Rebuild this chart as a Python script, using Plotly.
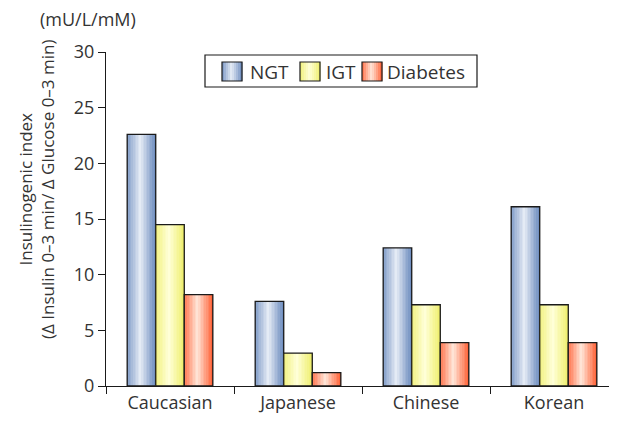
import plotly.graph_objects as go

categories = ["Caucasian", "Japanese", "Chinese", "Korean"]
series_names = ["NGT", "IGT", "Diabetes"]
ngt = [22.6, 7.6, 12.4, 16.1]
igt = [14.5, 2.95, 7.3, 7.3]
diabetes = [8.2, 1.2, 3.9, 3.9]
values = [ngt, igt, diabetes]

# gradient colours (edge, centre) per series
edge_cols = [(104, 136, 188), (238, 238, 105), (255, 92, 48)]
centre_cols = [(228, 235, 245), (255, 255, 215), (255, 228, 214)]

FONT = "Open Sans"
TXT = "#333333"
bar_w = 0.223
n_stripes = 18
group_start = -1.5 * bar_w

# page body has an 8px margin; plot area in screen px: x 106..618, y 52..386
OFF = 8
PX0, PX1, PY0, PY1 = 106, 618, 52, 386


def px(sx):
    return (sx - PX0) / (PX1 - PX0)


def py(sy):
    return (PY1 - sy) / (PY1 - PY0)


def mix(a, b, f):
    return "rgb(%d,%d,%d)" % tuple(round(a[k] + (b[k] - a[k]) * f) for k in range(3))


def grad(t):
    return max(0.0, 1 - abs((t - 0.47) / 0.53)) ** 0.9


fig = go.Figure()

for s, vals in enumerate(values):
    base = group_start + s * bar_w
    sw = bar_w / n_stripes
    for k in range(n_stripes):
        t = (k + 0.5) / n_stripes
        fig.add_trace(go.Bar(
            x=categories, y=vals, offset=base + k * sw, width=sw * 1.15,
            marker=dict(color=mix(edge_cols[s], centre_cols[s], grad(t)), line=dict(width=0)),
            showlegend=False, hoverinfo="skip"))
    fig.add_trace(go.Bar(
        x=categories, y=vals, offset=base, width=bar_w,
        marker=dict(color="rgba(0,0,0,0)", line=dict(color="#1a1a1a", width=1.3)),
        showlegend=False, name=series_names[s]))

# manual legend (screen px)
shapes = [dict(type="rect", xref="paper", yref="paper", x0=px(205), x1=px(477),
               y0=py(87), y1=py(55), line=dict(color="#1a1a1a", width=1.2),
               fillcolor="white", layer="above")]
annotations = []
sw_x = [222, 300, 362]
txt_x = [248, 324, 385]
n_leg = 10
for s in range(3):
    x0 = sw_x[s]
    w = 20
    for k in range(n_leg):
        t = (k + 0.5) / n_leg
        shapes.append(dict(type="rect", xref="paper", yref="paper",
                           x0=px(x0 + k * w / n_leg), x1=px(x0 + (k + 1.2) * w / n_leg),
                           y0=py(81), y1=py(62), line=dict(width=0),
                           fillcolor=mix(edge_cols[s], centre_cols[s], grad(t)), layer="above"))
    shapes.append(dict(type="rect", xref="paper", yref="paper", x0=px(x0), x1=px(x0 + w),
                       y0=py(81), y1=py(62), line=dict(color="#1a1a1a", width=1.2),
                       fillcolor="rgba(0,0,0,0)", layer="above"))
    annotations.append(dict(text=series_names[s], xref="paper", yref="paper",
                            x=px(txt_x[s]), y=py(71.5), xanchor="left", yanchor="middle",
                            showarrow=False, font=dict(size=19, family=FONT, color=TXT)))

annotations += [
    dict(text="(mU/L/mM)", xref="paper", yref="paper", x=px(38), y=py(19),
         xanchor="left", yanchor="middle", showarrow=False,
         font=dict(size=18, family=FONT, color=TXT)),
    dict(text="Insulinogenic index<br>(Δ Insulin 0–3 min/ Δ Glucose 0–3 min)", xref="paper", yref="paper",
         x=px(36), y=py(190), xanchor="center", yanchor="middle",
         textangle=-90, showarrow=False,
         font=dict(size=17, family=FONT, color=TXT)),
]

fig.update_layout(
    width=(PX1 - OFF), height=421 - OFF,
    barmode="overlay",
    paper_bgcolor="white", plot_bgcolor="white",
    margin=dict(l=PX0 - OFF, r=0, t=PY0 - OFF, b=421 - PY1),
    font=dict(family=FONT, size=17, color=TXT),
    showlegend=False,
    xaxis=dict(range=[-0.5, 3.5], showline=True, linecolor="#1a1a1a", linewidth=1.2,
               ticks="outside", tickson="boundaries", ticklen=7, tickcolor="#1a1a1a",
               tickfont=dict(size=18, family=FONT, color=TXT), showgrid=False,
               automargin=False),
    yaxis=dict(range=[0, 30], dtick=5, showline=True, linecolor="#1a1a1a", linewidth=1.2,
               ticks="outside", ticklen=7, tickcolor="#1a1a1a", showgrid=False,
               zeroline=False, tickfont=dict(size=18, family=FONT, color=TXT),
               automargin=False),
    shapes=shapes,
    annotations=annotations,
)

fig.write_html("out.html")
